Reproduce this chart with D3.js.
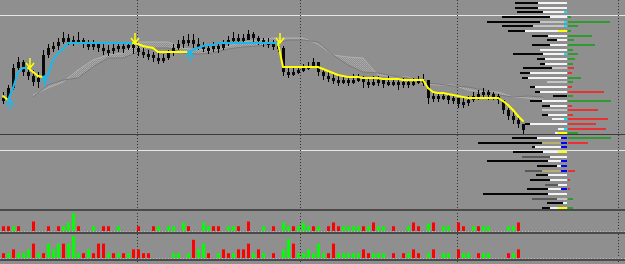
<!DOCTYPE html>
<html>
<head>
<meta charset="utf-8">
<script src="https://cdn.jsdelivr.net/npm/d3@7/dist/d3.min.js"></script>
<style>
body { margin: 0; background: #8f8f8f; }
svg { display: block; }
</style>
</head>
<body>
<div id="chart"></div>
<script>
// candles (price in points)
var hi = [1213,1220,1241,1248,1245,1239,1235,1233,1255,1261,1263,1267,1273,1271,1269,1273,1267,1265,1265,1263,
          1261,1260,1261,1263,1262,1263,1261,1259,1257,1255,1253,1252,1251,1255,1261,1265,1269,1271,1271,1267,
          1263,1261,1263,1262,1265,1269,1273,1271,1271,1275,1273,1269,1267,1267,1265,1263,1259,1239,1237,1239,
          1241,1243,1247,1243,1235,1233,1231,1229,1229,1229,1231,1231,1229,1227,1229,1229,1227,1229,1227,1227,
          1227,1225,1227,1229,1231,1221,1213,1213,1213,1211,1211,1207,1207,1209,1213,1215,1217,1215,1213,1211,
          1205,1197,1193,1187,1181];
var lo = [1201,1205,1215,1235,1229,1225,1219,1217,1227,1247,1253,1255,1261,1260,1259,1261,1257,1255,1255,1253,
          1250,1249,1251,1253,1252,1255,1251,1249,1247,1245,1243,1241,1242,1245,1249,1255,1257,1259,1257,1255,
          1253,1251,1253,1252,1255,1259,1261,1261,1261,1265,1263,1260,1258,1257,1255,1253,1229,1227,1229,1231,
          1233,1235,1237,1229,1225,1223,1221,1219,1221,1219,1221,1223,1217,1217,1219,1219,1217,1219,1219,1215,
          1217,1217,1219,1221,1219,1201,1203,1203,1205,1201,1201,1197,1197,1199,1203,1205,1207,1205,1205,1201,
          1191,1185,1181,1177,1171];
var cl = [1207,1217,1237,1243,1233,1229,1223,1227,1250,1257,1259,1263,1267,1263,1265,1265,1261,1259,1261,1257,
          1255,1255,1257,1259,1258,1260,1257,1253,1251,1250,1247,1245,1247,1253,1257,1261,1265,1265,1261,1259,
          1257,1257,1259,1257,1261,1265,1267,1267,1265,1271,1267,1265,1263,1261,1259,1257,1233,1233,1233,1235,
          1237,1239,1243,1233,1229,1227,1225,1223,1225,1223,1225,1227,1223,1221,1223,1225,1221,1223,1223,1221,
          1223,1221,1223,1225,1225,1207,1209,1207,1209,1205,1207,1201,1203,1205,1209,1211,1213,1211,1209,1205,
          1195,1189,1185,1181,1175];

// trailing stop line and its direction (u = up / cyan, d = down / yellow)
var stop = [1209,1205,1217,1233,1237,1237,1233,1229,1228,1230,1245,1252,1256,1262,1262,1262,1262,1262,1262,1262,
            1262,1262,1262,1262,1262,1262,1262,1261,1259,1258,1257,1253,1253,1253,1253,1253,1253,1253,1255,1257,
            1259,1260,1260,1262,1262,1262,1262,1262,1262,1262,1262,1262,1262,1262,1262,1262,1238,1238,1238,1238,
            1238,1238,1238,1238,1236,1234,1232,1230,1229,1228,1228,1228,1227,1227,1227,1227,1226,1226,1226,1226,
            1225,1225,1225,1225,1225,1217,1213,1212,1212,1211,1210,1209,1208,1207,1207,1207,1207,1207,1207,1207,
            1204,1200,1195,1189,1184];
var stopDir = "dd" + "uuuu" + "ddd" + "u".repeat(18) + "d".repeat(11) + "u".repeat(18) + "d".repeat(49);

// cloud spans
var cloudIdx = [6,9,12,15,18,21,24,27,30,33,36,39,42,45,48,51,54,57,60,63,66,69,72,75,78,81,84,87,90,93,96,99,102,105,108];
var spanA = [1210,1217,1223,1235,1245,1250,1252,1263,1263,1263,1257,1255,1257,1259,1263,1265,1267,1267,1267,1261,
             1250,1248,1247,1230,1228,1228,1221,1220,1220,1215,1213,1213,1208,1207,1205];
var spanB = [1208,1220,1225,1227,1238,1247,1247,1253,1257,1257,1252,1251,1252,1256,1258,1259,1261,1265,1265,1263,
             1250,1240,1233,1232,1229,1227,1222,1221,1219,1218,1215,1210,1208,1209,1208];

// volume panels (positive = up bar, negative = down bar)
var vol1 = [-5,-5,5,-5,0,0,-10,0,0,-5, 0,-5,5,9,19,-5,0,0,5,0, -5,-5,0,5,0,0,0,-5,0,0,
            -5,5,0,5,5,0,9,-5,0,0, 9,5,-5,-5,0,5,5,-5,0,-10, 0,0,5,0,-5,0,9,5,-5,5,
            9,5,-5,5,0,-5,-9,-5,5,5, 5,5,-5,5,-9,5,5,0,-5,0, 0,5,-9,-5,0,8,-9,0,5,5,
            0,-9,-5,0,5,-5,5,5,0,0, 0,5,5,-9,0];
var vol2 = [-5,5,-9,5,5,9,-15,5,-5,15, 9,15,-15,15,23,5,-5,9,-5,-15, -15,5,-5,5,-5,5,-9,-9,-5,-5,
            0,0,0,0,5,5,0,5,-19,9, 15,-5,0,5,-9,-5,5,-9,-9,-15, 5,-9,5,0,-5,0,9,20,-15,5,
            5,9,5,15,5,-5,-15,5,5,5, 5,5,-9,-5,5,5,5,0,-5,0, -5,5,-9,-5,0,5,-9,0,5,5,
            0,-9,5,5,0,-5,5,5,0,0, 0,-5,5,-9,0];

// volume profile rows, top to bottom
var profTotal = [52,52,50,65,80,65,59,35,20,35,27,54,30,27,44,47,45,20,37,32,14,37,25,25,25,15,42,9,12,55,
                 89,35,54,45,80,30,42,31,37,22,40,84,35,20,25];
var profLight = [29,29,24,17,27,34,42,19,10,17,27,24,22,22,15,37,39,20,32,27,0,25,17,25,19,15,37,9,12,30,
                 25,32,24,17,19,10,25,19,17,9,19,19,10,4,17];
var profTip = ["","","c","","c","c","y","","","","","c","","","","","","","","","","","","","",
               "c","","c","y","b","b","b","y","","b","b","b","","","","b","","","","y"];
var profDarkTone = ["k","k","k","k","k","k","k","k","k","k","k","k","k","k","k","k","k","k","k","k","k","k","k","k","k",
                    "k","k","k","k","k","k","k","k","g","k","k","g","k","k","g","k","k","g","k","k"];
var profLightTone = ["w","w","w","w","l","l","w","w","w","w","w","w","w","w","l","w","w","l","w","w","w","w","w","l","w",
                     "w","w","w","w","w","t","w","w","w","w","w","t","w","w","w","w","w","l","w","w"];
var profDelta = [0,0,0,3,42,10,3,24,6,27,5,10,7,5,-6,-4,13,5,-4,-36,5,43,-4,-30,-5,-40,-28,-38,10,43,
                 -20,0,0,0,0,0,-7,0,-2,0,-2,0,5,0,5];

// session separators (in bar index) and price levels
var sessions = [26.8, 59.4, 90.8, 123];
var levels = [1290, 1171, 1155];

var w = 625, h = 264;

var svg = d3.select("#chart").append("svg")
  .attr("width", w)
  .attr("height", h);

svg.append("rect").attr("width", w).attr("height", h).style("fill", "#8f8f8f");

var x = d3.scaleLinear().domain([0, 104]).range([3, 523]);
var y = d3.scaleLinear().domain([1290, 1155]).range([15, 150]);

// dotted fill for the cloud
var defs = svg.append("defs");
var pat = defs.append("pattern")
  .attr("id", "hatch")
  .attr("width", 2).attr("height", 2)
  .attr("patternUnits", "userSpaceOnUse");
pat.append("rect").attr("width", 2).attr("height", 2).style("fill", "#8f8f8f");
pat.append("rect").attr("width", 1).attr("height", 1).style("fill", "#adadad");
pat.append("rect").attr("x", 1).attr("y", 1).attr("width", 1).attr("height", 1).style("fill", "#a4a4a4");

// levels
svg.selectAll(".level")
  .data(levels)
  .enter().append("line")
  .attr("x1", 0).attr("x2", w)
  .attr("y1", function(d) { return Math.round(y(d)) + 0.5; })
  .attr("y2", function(d) { return Math.round(y(d)) + 0.5; })
  .style("stroke", function(d, i) { return i == 1 ? "#3c3c3c" : "#e6e6e6"; })
  .style("stroke-width", 1);

// cloud
var cloud = cloudIdx.map(function(d, i) { return { i: d, a: spanA[i], b: spanB[i] }; });
svg.append("path")
  .datum(cloud)
  .attr("d", d3.area()
    .x(function(d) { return x(d.i); })
    .y0(function(d) { return y(d.a); })
    .y1(function(d) { return y(d.b); }))
  .style("fill", "url(#hatch)");
svg.append("path")
  .datum(cloud)
  .attr("d", d3.line().x(function(d) { return x(d.i); }).y(function(d) { return y(d.a); }))
  .style("fill", "none").style("stroke", "#b0b0b0").style("stroke-width", 1);
svg.append("path")
  .datum(cloud)
  .attr("d", d3.line().x(function(d) { return x(d.i); }).y(function(d) { return y(d.b); }))
  .style("fill", "none").style("stroke", "#7a7a7a").style("stroke-width", 1);

// session separators
svg.selectAll(".sep")
  .data(sessions)
  .enter().append("line")
  .attr("x1", function(d) { return Math.round(x(d)) + 0.5; })
  .attr("x2", function(d) { return Math.round(x(d)) + 0.5; })
  .attr("y1", 0).attr("y2", h)
  .style("stroke", "#303030")
  .style("stroke-dasharray", "1,2");

// candles
var candles = hi.map(function(d, i) {
  return { i: i, hi: d, lo: lo[i], op: i ? cl[i - 1] : (d + lo[i]) / 2, cl: cl[i] };
});
svg.selectAll(".wick")
  .data(candles)
  .enter().append("line")
  .attr("x1", function(d) { return x(d.i) + 0.5; })
  .attr("x2", function(d) { return x(d.i) + 0.5; })
  .attr("y1", function(d) { return y(d.hi); })
  .attr("y2", function(d) { return y(d.lo); })
  .style("stroke", "#000");
svg.selectAll(".body")
  .data(candles)
  .enter().append("rect")
  .attr("x", function(d) { return x(d.i) - 1; })
  .attr("width", 3)
  .attr("y", function(d) { return y(Math.max(d.op, d.cl)); })
  .attr("height", function(d) { return Math.max(3, Math.abs(y(d.op) - y(d.cl))); })
  .style("fill", "#0a0a0a");

// trailing stop
var segs = [];
for (var i = 1; i < stop.length; i++) {
  segs.push({ i: i, a: stop[i - 1], b: stop[i], dir: stopDir[i] });
}
svg.selectAll(".stop")
  .data(segs)
  .enter().append("line")
  .attr("x1", function(d) { return x(d.i - 1); })
  .attr("x2", function(d) { return x(d.i); })
  .attr("y1", function(d) { return y(d.a); })
  .attr("y2", function(d) { return y(d.b); })
  .style("stroke", function(d) { return d.dir == "d" ? "#ffff00" : "#1ab8ee"; })
  .style("stroke-width", 2)
  .style("stroke-linecap", "round");

// flip arrows
var flips = segs.filter(function(d) { return stopDir[d.i] != stopDir[d.i - 1]; });
svg.selectAll(".arrow")
  .data(flips)
  .enter().append("path")
  .attr("d", function(d) {
    var ax = x(d.i - 1) + 2, ay = y(d.a);
    if (d.dir == "d") {
      return "M" + ax + "," + (ay - 10) + "V" + ay + "M" + (ax - 4) + "," + (ay - 5) + "L" + ax + "," + ay + "L" + (ax + 4) + "," + (ay - 5);
    }
    return "M" + ax + "," + (ay + 10) + "V" + ay + "M" + (ax - 4) + "," + (ay + 5) + "L" + ax + "," + ay + "L" + (ax + 4) + "," + (ay + 5);
  })
  .style("fill", "none")
  .style("stroke", function(d) { return d.dir == "d" ? "#ffff00" : "#1ab8ee"; })
  .style("stroke-width", 1.5);

// volume profile
var px = 567;
var ry = d3.scaleLinear().domain([0, profTotal.length - 1]).range([3, 208]);
var pv = d3.scaleLinear().domain([0, 100]).range([0, 100]);
var darkCol = { k: "#050505", g: "#585858" };
var lightCol = { w: "#f4f4f4", l: "#c4c4c4", t: "#b9ad72" };
var tipCol = { c: "#00e8ff", y: "#ffff00", b: "#0000ff" };
var tipLen = { c: 3, y: 9, b: 6 };
var rows = profTotal.map(function(d, i) {
  return { i: i, total: d, light: profLight[i], tip: profTip[i], dk: profDarkTone[i], lt: profLightTone[i], delta: profDelta[i] };
});
var row = svg.selectAll(".row")
  .data(rows)
  .enter().append("g")
  .attr("transform", function(d) { return "translate(0," + Math.round(ry(d.i) - 1) + ")"; });
row.append("rect")
  .attr("x", function(d) { return px - pv(d.total); })
  .attr("width", function(d) { return pv(d.total - d.light); })
  .attr("height", 2)
  .style("fill", function(d) { return darkCol[d.dk]; });
row.append("rect")
  .attr("x", function(d) { return px - pv(d.light); })
  .attr("width", function(d) { return pv(d.light); })
  .attr("height", 2)
  .style("fill", function(d) { return lightCol[d.lt]; });
row.filter(function(d) { return d.tip; }).append("rect")
  .attr("x", function(d) { return px - tipLen[d.tip]; })
  .attr("width", function(d) { return tipLen[d.tip]; })
  .attr("height", 2)
  .style("fill", function(d) { return tipCol[d.tip]; });
row.filter(function(d) { return d.delta != 0; }).append("rect")
  .attr("x", px + 1)
  .attr("width", function(d) { return pv(Math.abs(d.delta)); })
  .attr("height", 2)
  .style("fill", function(d) { return d.delta > 0 ? "#2f9a2f" : "#e83232"; });

// lower panels
var panels = [
  { data: vol1, base: 231, top: 212, max: 20, sepTop: 210 },
  { data: vol2, base: 258, top: 235, max: 24, sepTop: 233 }
];
panels.forEach(function(p) {
  var vy = d3.scaleLinear().domain([0, p.max]).range([p.base, p.top]);
  svg.append("rect")
    .attr("x", 0).attr("y", p.sepTop - 1)
    .attr("width", w).attr("height", 2)
    .style("fill", "#4a4a4a");
  svg.append("line")
    .attr("x1", 0).attr("x2", w)
    .attr("y1", p.base + 0.5).attr("y2", p.base + 0.5)
    .style("stroke", "#b8b8b8")
    .style("stroke-dasharray", "1,2");
  svg.selectAll(null)
    .data(p.data.map(function(d, i) { return { i: i, v: d }; }).filter(function(d) { return d.v != 0; }))
    .enter().append("rect")
    .attr("x", function(d) { return x(d.i) - 1; })
    .attr("width", 3)
    .attr("y", function(d) { return vy(Math.abs(d.v)); })
    .attr("height", function(d) { return p.base - vy(Math.abs(d.v)); })
    .style("fill", function(d) { return d.v > 0 ? "#00ff00" : "#ff0000"; });
});
svg.append("rect")
  .attr("x", 0).attr("y", 259)
  .attr("width", w).attr("height", 2)
  .style("fill", "#4a4a4a");
</script>
</body>
</html>
